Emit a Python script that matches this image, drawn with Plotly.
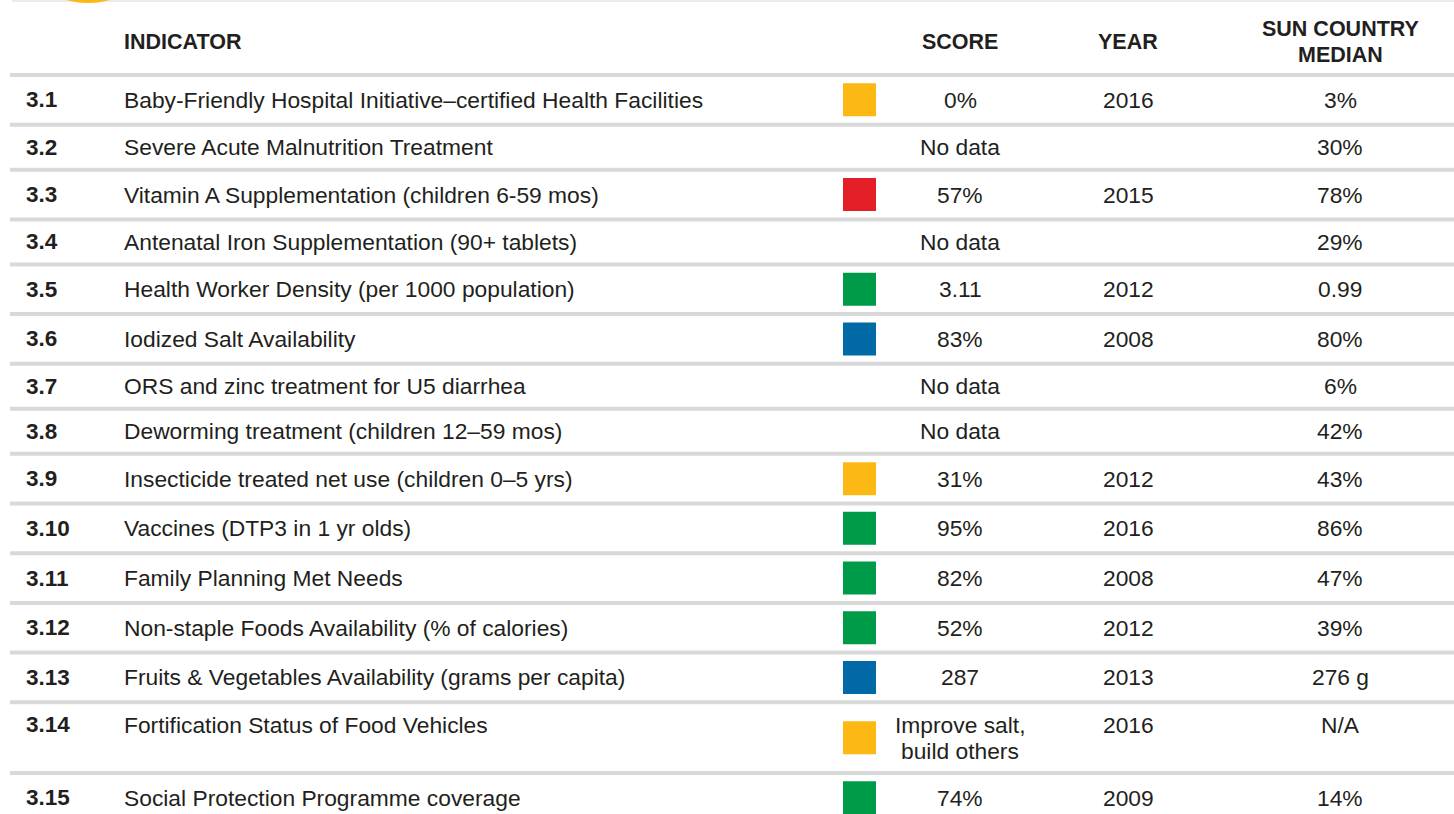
import plotly.graph_objects as go

# ---------------- data ----------------
codes = ["3.1", "3.2", "3.3", "3.4", "3.5", "3.6", "3.7", "3.8", "3.9", "3.10",
         "3.11", "3.12", "3.13", "3.14", "3.15"]
indicators = [
    "Baby-Friendly Hospital Initiative\u2013certified Health Facilities",
    "Severe Acute Malnutrition Treatment",
    "Vitamin A Supplementation (children 6-59 mos)",
    "Antenatal Iron Supplementation (90+ tablets)",
    "Health Worker Density (per 1000 population)",
    "Iodized Salt Availability",
    "ORS and zinc treatment for U5 diarrhea",
    "Deworming treatment (children 12\u201359 mos)",
    "Insecticide treated net use (children 0\u20135 yrs)",
    "Vaccines (DTP3 in 1 yr olds)",
    "Family Planning Met Needs",
    "Non-staple Foods Availability (% of calories)",
    "Fruits & Vegetables Availability (grams per capita)",
    "Fortification Status of Food Vehicles",
    "Social Protection Programme coverage",
]
scores = ["0%", "No data", "57%", "No data", "3.11", "83%", "No data", "No data",
          "31%", "95%", "82%", "52%", "287", "Improve salt,\nbuild others", "74%"]
years = ["2016", "", "2015", "", "2012", "2008", "", "", "2012", "2016",
         "2008", "2012", "2013", "2016", "2009"]
medians = ["3%", "30%", "78%", "29%", "0.99", "80%", "6%", "42%", "43%", "86%",
           "47%", "39%", "276 g", "N/A", "14%"]
ratings = ["yellow", None, "red", None, "green", "blue", None, None, "yellow",
           "green", "green", "green", "blue", "yellow", "green"]
headers = ["INDICATOR", "SCORE", "YEAR", "SUN COUNTRY\nMEDIAN"]

# ---------------- style / layout ----------------
W, H = 1454, 814
RATING_COLORS = {"yellow": "#FDB913", "red": "#E41E26", "green": "#009B48", "blue": "#0069A6"}
TEXT = "#231F20"
RULE = "#D9D9D9"
BODY_FONT = "Liberation Sans, Arial, sans-serif"
HEAD_FONT = "Liberation Sans Narrow, Arial Narrow, Liberation Sans, sans-serif"
BODY_SIZE = 22.8
CODE_SIZE = 22.5
HEAD_SIZE = 21.5

X_CODE, X_IND, X_SQ, X_SCORE, X_YEAR, X_MED = 24, 122, 859.5, 960, 1128, 1340
HEADER_Y = 42
HEADER_LINE_GAP = 26
FIRST_RULE = 75
BASE_H, SQ_EXTRA, LINE_EXTRA = 45, 4.7, 21
LINE_GAP = 26

fig = go.Figure()
shapes = []
annotations = []

# top decoration
shapes.append(dict(type="rect", xref="x", yref="y", x0=12, x1=W, y0=0, y1=2,
                   fillcolor="#EBEBEB", line=dict(width=0)))
shapes.append(dict(type="circle", xref="x", yref="y", x0=88 - 78.5, x1=88 + 78.5,
                   y0=3 - 157, y1=3, fillcolor="#FDB913", line=dict(width=0)))


def ann(x, y, text, anchor, size=BODY_SIZE, family=BODY_FONT, bold=False):
    t = f"<b>{text}</b>" if bold else text
    annotations.append(dict(x=x, y=y, xref="x", yref="y", text=t, showarrow=False,
                            xanchor=anchor, yanchor="middle",
                            font=dict(size=size, family=family, color=TEXT)))


# headers
header_x = [(X_IND, "left"), (X_SCORE, "center"), (X_YEAR, "center"), (X_MED, "center")]
for label, (hx, anchor) in zip(headers, header_x):
    lines = label.split("\n")
    for k, ln in enumerate(lines):
        y = HEADER_Y + (k - (len(lines) - 1) / 2) * HEADER_LINE_GAP
        ann(hx, y, ln, anchor, size=HEAD_SIZE, family=HEAD_FONT, bold=True)

# rows
rule_y = FIRST_RULE
rules = [rule_y]
sq_x, sq_y, sq_c = [], [], []
for i in range(len(codes)):
    n_lines = len(scores[i].split("\n"))
    h = BASE_H + (SQ_EXTRA if ratings[i] else 0) + LINE_EXTRA * (n_lines - 1)
    top, bottom = rule_y, rule_y + h
    center = (top + bottom) / 2
    first = center - (n_lines - 1) * LINE_GAP / 2
    ann(X_CODE, first, codes[i], "left", size=CODE_SIZE, bold=True)
    ann(X_IND, first, indicators[i], "left")
    for k, ln in enumerate(scores[i].split("\n")):
        ann(X_SCORE, first + k * LINE_GAP, ln, "center")
    if years[i]:
        ann(X_YEAR, first, years[i], "center")
    ann(X_MED, first, medians[i], "center")
    if ratings[i]:
        sq_x.append(X_SQ)
        sq_y.append(center)
        sq_c.append(RATING_COLORS[ratings[i]])
    rule_y = bottom
    if i < len(codes) - 1:
        rules.append(rule_y)

for ry in rules:
    shapes.append(dict(type="line", xref="x", yref="y", x0=10, x1=W, y0=ry, y1=ry,
                       line=dict(color=RULE, width=4)))

fig.add_trace(go.Scatter(x=sq_x, y=sq_y, mode="markers", hoverinfo="skip",
                         marker=dict(symbol="square", size=33, color=sq_c,
                                     line=dict(width=0))))

fig.update_layout(
    width=W, height=H, margin=dict(l=0, r=0, t=0, b=0),
    paper_bgcolor="white", plot_bgcolor="white", showlegend=False,
    shapes=shapes, annotations=annotations,
    xaxis=dict(range=[0, W], visible=False, fixedrange=True),
    yaxis=dict(range=[H, 0], visible=False, fixedrange=True),
)

fig.write_html("out.html", config={"displayModeBar": False},
               post_script="document.body.style.margin='0';document.body.style.overflow='hidden';")
